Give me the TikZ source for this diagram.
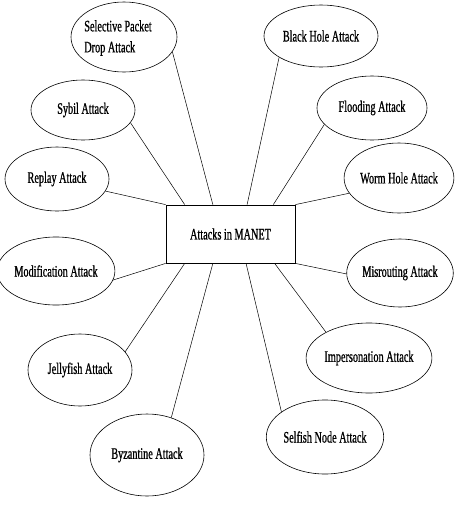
\documentclass[tikz,border=0pt]{standalone}
\usepackage{fontspec}
\newfontfamily\condfont[FakeStretch=0.64,FakeBold=0.8]{Liberation Serif}
\usetikzlibrary{shapes.geometric,calc}
\tikzset{
  attack/.style={ellipse, draw=black, line width=0.6pt, inner sep=0pt,
    font=\condfont\fontsize{16}{21}\selectfont, align=center},
  hub/.style={rectangle, draw=black, line width=0.8pt, inner sep=0pt,
    minimum width=129pt, minimum height=58pt, font=\condfont\fontsize{16}{21}\selectfont},
  link/.style={draw=black, line width=0.5pt}
}
\begin{document}
\begin{tikzpicture}[x=1pt,y=-1pt]
\useasboundingbox (0,0) rectangle (460,512);
\node[hub] (m) at (230.5,234) {Attacks in MANET};
% left side
\node[attack, minimum width=106pt, minimum height=70pt] (sp) at (124,37) {};
\node[font=\condfont\fontsize{16}{21}\selectfont, align=left, inner sep=0pt] (spt) at (118,38) {Selective Packet\\Drop Attack};
\node[attack, minimum width=104pt, minimum height=60pt] (sy) at (83,110) {Sybil Attack};
\node[attack, minimum width=104pt, minimum height=64pt] (re) at (57,179) {Replay Attack};
\node[attack, minimum width=104pt, minimum height=68pt] (mo) at (56,271) {Modification Attack};
\node[attack, minimum width=104pt, minimum height=72pt] (je) at (80,370) {Jellyfish Attack};
\node[attack, minimum width=114pt, minimum height=82pt] (by) at (147,455) {Byzantine Attack};
% right side
\node[attack, minimum width=114pt, minimum height=62pt] (bh) at (321,36) {Black Hole Attack};
\node[attack, minimum width=110pt, minimum height=64pt] (fl) at (372,108) {Flooding Attack};
\node[attack, minimum width=104pt, minimum height=70pt] (wh) at (399,178) {Worm Hole Attack};
\node[attack, minimum width=102pt, minimum height=68pt] (mi) at (400,273) {Misrouting Attack};
\node[attack, minimum width=112pt, minimum height=70pt] (im) at (369,358) {Impersonation Attack};
\node[attack, minimum width=108pt, minimum height=74pt] (se) at (325,437) {Selfish Node Attack};
% connectors
\draw[link] ($(m.north west)!0.364!(m.north east)$) -- (sp.-17);
\draw[link] ($(m.north west)!0.147!(m.north east)$) -- (sy.-15);
\draw[link] (m.north west) -- (re.-14);
\draw[link] (m.south west) -- (mo.-9);
\draw[link] ($(m.south west)!0.147!(m.south east)$) -- (je.22);
\draw[link] ($(m.south west)!0.364!(m.south east)$) -- (by.57);
\draw[link] ($(m.north west)!0.628!(m.north east)$) -- (bh.-153);
\draw[link] ($(m.north west)!0.83!(m.north east)$) -- (fl.-161);
\draw[link] (m.north east) -- (wh.-163);
\draw[link] (m.south east) -- (mi.-179);
\draw[link] ($(m.south west)!0.84!(m.south east)$) -- (im.149);
\draw[link] ($(m.south west)!0.62!(m.south east)$) -- (se.150);
\end{tikzpicture}
\end{document}
